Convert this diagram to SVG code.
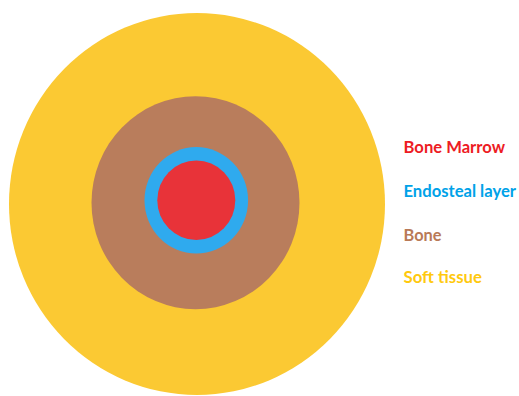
<svg xmlns="http://www.w3.org/2000/svg" width="519" height="396" viewBox="0 0 519 396">
<style>
.lbl{font-family:Lato,"Open Sans",sans-serif;font-weight:bold;font-size:17px}
</style>
<rect width="519" height="396" fill="#ffffff"/>
<g id="soft-tissue"><ellipse cx="197" cy="204" rx="188" ry="191" fill="#FBC933"/></g>
<g id="bone"><ellipse cx="195.5" cy="202.7" rx="104" ry="106.5" fill="#B97D5C"/></g>
<g id="endosteal-layer"><ellipse cx="196.3" cy="200.3" rx="51.8" ry="53.2" fill="#2FAAEE"/></g>
<g id="bone-marrow"><ellipse cx="196.3" cy="200.3" rx="39" ry="39.7" fill="#E83339"/></g>
<g id="legend">
<text class="lbl" x="403.5" y="152.7" fill="#ED1C24" textLength="101.5" lengthAdjust="spacingAndGlyphs">Bone Marrow</text>
<text class="lbl" x="403.5" y="196.7" fill="#00A2E8" textLength="112.5" lengthAdjust="spacingAndGlyphs">Endosteal layer</text>
<text class="lbl" x="403.5" y="240.7" fill="#B97A57" textLength="38" lengthAdjust="spacingAndGlyphs">Bone</text>
<text class="lbl" x="403.5" y="283.3" fill="#FFC90E" textLength="78.5" lengthAdjust="spacingAndGlyphs">Soft tissue</text>
</g>
</svg>
